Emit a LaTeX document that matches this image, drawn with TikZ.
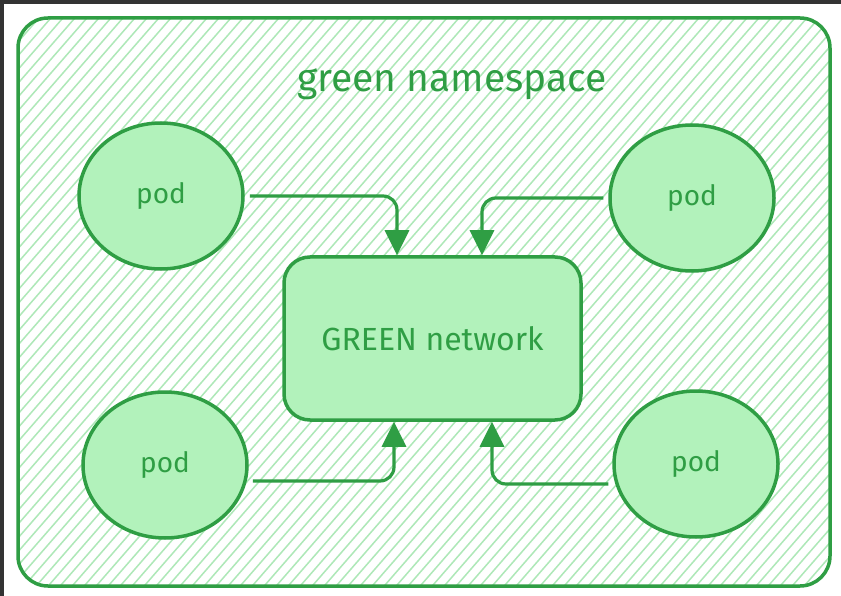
\documentclass[tikz,border=0pt]{standalone}
\usepackage{fontspec}
\setmainfont{Fira Sans}
\usetikzlibrary{shapes.geometric,arrows.meta}
\definecolor{leaf}{HTML}{2F9E44}
\definecolor{mint}{HTML}{B2F2BB}
\definecolor{hatchgreen}{HTML}{AEE8B8}
\definecolor{frame}{HTML}{333333}
\tikzset{
  pod/.style={ellipse,draw=leaf,fill=mint,line width=3.5pt,inner sep=0pt,
    minimum width=164pt,minimum height=146pt,text=leaf,font=\fontsize{28}{32}\selectfont},
  netbox/.style={rectangle,rounded corners=26pt,draw=leaf,fill=mint,line width=3.5pt,
    minimum width=297pt,minimum height=163pt,text=leaf,font=\fontsize{32}{36}\selectfont},
  link/.style={draw=leaf,line width=3.2pt,rounded corners=14pt,
    -{Triangle[width=24pt,length=25pt]}},
}
\begin{document}
\begin{tikzpicture}[x=1pt,y=-1pt]
\useasboundingbox (0,0) rectangle (841,596);
\fill[white] (0,0) rectangle (841,596);
\fill[frame] (0,0) rectangle (841,4);
\fill[frame] (0,0) rectangle (4,596);
% namespace area with hatching
\begin{scope}
\clip[rounded corners=30pt] (18,18) rectangle (830,586);
\foreach \x in {-600,-588,...,850}
  \draw[hatchgreen,line width=1.5pt] (\x,600) -- ++(540,-620);
\end{scope}
\draw[leaf,line width=3.5pt,rounded corners=30pt] (18,18) rectangle (830,586);
\node[text=leaf,font=\fontsize{39}{44}\selectfont] (title) at (452,84) {green namespace};
% network and pods
\node[netbox] (net) at (432.5,338.5) {GREEN network};
\node[pod] (ptl) at (161,196) {pod};
\node[pod] (ptr) at (692,198) {pod};
\node[pod] (pbl) at (165,465) {pod};
\node[pod] (pbr) at (696,464) {pod};
% connectors
\draw[link,shorten <=5pt] (ptl.east) -| ([xshift=-35.5pt]net.north);
\draw[link,shorten <=5pt] (ptr.west) -| ([xshift=49.5pt]net.north);
\draw[link] ([yshift=-16pt,xshift=4pt]pbl.east) -| ([xshift=-38.5pt]net.south);
\draw[link] ([yshift=-20pt,xshift=-4pt]pbr.west) -| ([xshift=59.5pt]net.south);
\end{tikzpicture}
\end{document}
